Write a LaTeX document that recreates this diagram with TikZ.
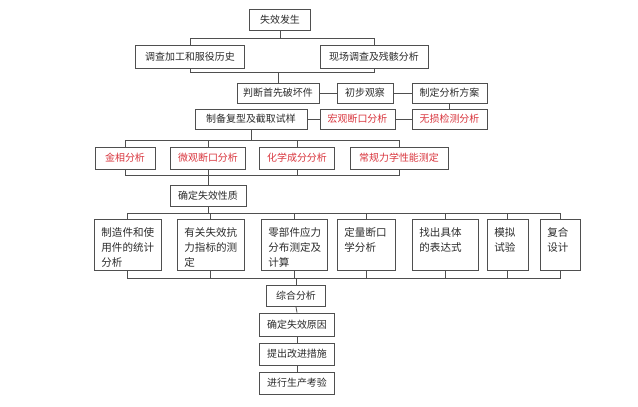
\documentclass[tikz,border=0pt]{standalone}
\usepackage{fontspec}
\setmainfont{Noto Sans CJK SC}
\usepackage{xcolor}
\usepackage{tikz}
\usetikzlibrary{positioning,calc}
\definecolor{cInk}{HTML}{2B2B2B}
\definecolor{cRed}{HTML}{D9363E}
\definecolor{cLine}{HTML}{4F4F4F}
\tikzset{
  flowbox/.style={draw=cLine,fill=white,line width=0.7pt,text=#1,font=\fontsize{8.5}{10}\selectfont,inner sep=0pt,minimum height=0.63cm},
  flowbox/.default=cInk,
  % multibox: fixed text height+depth so the lines start at the top
  multibox/.style={draw=cLine,fill=white,line width=0.7pt,text=cInk,font=\fontsize{9}{12.8}\selectfont,anchor=north west,
    align=left,inner xsep=6pt,inner ysep=0pt,text width=#1,text height=0.51cm,text depth=1.02cm},
  link/.style={draw=cLine,line width=0.7pt},
}

\begin{document}
\begin{tikzpicture}[x=0.03cm,y=-0.03cm]
    \useasboundingbox (0,0) rectangle (638,406);
    \node[flowbox,minimum width=1.83cm] (fail) at (280,20) {失效发生};
    \node[flowbox,minimum width=3.27cm,minimum height=0.69cm] (hist)  at (190,56.5) {调查加工和服役历史};
    \node[flowbox,minimum width=3.24cm,minimum height=0.69cm] (scene) at (374,56.5) {现场调查及残骸分析};
    \node[flowbox,minimum width=2.46cm,minimum height=0.6cm] (judge)   at (278,93)   {判断首先破坏件};
    \node[flowbox,minimum width=1.68cm,minimum height=0.6cm] (observe) at (365,93)   {初步观察};
    \node[flowbox,minimum width=2.25cm,minimum height=0.6cm] (scheme)  at (449.5,93) {制定分析方案};
    \node[flowbox,minimum width=3.36cm,minimum height=0.6cm]      (replica) at (251,119)   {制备复型及截取试样};
    \node[flowbox=cRed,minimum width=2.25cm,minimum height=0.6cm] (macro)   at (357.5,119) {宏观断口分析};
    \node[flowbox=cRed,minimum width=2.25cm,minimum height=0.6cm] (ndt)     at (449.5,119) {无损检测分析};
    \node[flowbox=cRed,minimum width=1.8cm,minimum height=0.66cm]  (metal) at (125,158) {金相分析};
    \node[flowbox=cRed,minimum width=2.25cm,minimum height=0.66cm] (micro) at (208,158) {微观断口分析};
    \node[flowbox=cRed,minimum width=2.25cm,minimum height=0.66cm] (chem)  at (297,158) {化学成分分析};
    \node[flowbox=cRed,minimum width=2.94cm,minimum height=0.66cm] (mech)  at (399,158) {常规力学性能测定};
    \node[flowbox,minimum width=2.28cm] (nature) at (208,195.5) {确定失效性质};
    \node[multibox=1.587cm] (stat)     at (94,219)  {制造件和使\\用件的统计\\分析};
    \node[multibox=1.587cm] (resist)   at (177,219) {有关失效抗\\力指标的测\\定};
    \node[multibox=1.557cm] (stress)   at (261,219) {零部件应力\\分布测定及\\计算};
    \node[multibox=1.317cm] (fracto)   at (337,219) {定量断口\\学分析};
    \node[multibox=1.557cm] (express)  at (412,219) {找出具体\\的表达式};
    \node[multibox=0.807cm] (simul)    at (487,219) {模拟\\试验};
    \node[multibox=0.777cm] (compound) at (540,219) {复合\\设计};
    \node[flowbox,minimum width=1.77cm] (synth)   at (296,296)   {综合分析};
    \node[flowbox,minimum width=2.25cm,minimum height=0.69cm] (cause) at (297,324.5) {确定失效原因};
    \node[flowbox,minimum width=2.25cm,minimum height=0.66cm] (improve) at (297,354) {提出改进措施};
    \node[flowbox,minimum width=2.25cm,minimum height=0.66cm] (trial)   at (297,383) {进行生产考验};
    % junctions of the bus lines
    \path (fail.south) ++(0,7) coordinate (j1);
    \path (judge.north) ++(0,-10) coordinate (j2);
    \path (replica.south) ++(0,11) coordinate (j3);
    \path (nature.north) ++(0,-9) coordinate (j4);
    \path (nature.south) ++(0,7) coordinate (j5);
    \path (synth.north) ++(0,-7) coordinate (j6);
    \draw[link] (fail.south) -- (j1);
    \draw[link] (hist.north) |- (j1) -| (scene.north);
    \draw[link] (hist.south) |- (j2) -| (scene.south);
    \draw[link] (j2) -- (judge.north);
    \draw[link] (judge.east) -- (observe.west);
    \draw[link] (observe.east) -- (scheme.west);
    \draw[link] (scheme.south) -- (ndt.north);
    \draw[link] (ndt.west) -- (macro.east);
    \draw[link] (macro.west) -- (replica.east);
    \draw[link] (replica.south) -- (j3);
    \draw[link] (metal.north) |- (j3) -| (mech.north);
    \draw[link] (micro.north) |- (j3);
    \draw[link] (chem.north) |- (j3);
    \draw[link] (metal.south) |- (j4) -| (mech.south);
    \draw[link] (micro.south) |- (j4);
    \draw[link] (chem.south) |- (j4);
    \draw[link] (j4) -- (nature.north);
    \draw[link] (nature.south) -- (j5);
    \draw[link] (stat.north) |- (j5) -| (compound.north);
    \draw[link] (resist.north) |- (j5);
    \draw[link] (stress.north) |- (j5);
    \draw[link] (fracto.north) |- (j5);
    \draw[link] (express.north) |- (j5);
    \draw[link] (simul.north) |- (j5);
    \draw[link] (stat.south) |- (j6) -| (compound.south);
    \draw[link] (resist.south) |- (j6);
    \draw[link] (stress.south) |- (j6);
    \draw[link] (fracto.south) |- (j6);
    \draw[link] (express.south) |- (j6);
    \draw[link] (simul.south) |- (j6);
    \draw[link] (j6) -- (synth.north);
    \draw[link] (synth.south) -- (cause.north);
    \draw[link] (cause.south) -- (improve.north);
    \draw[link] (improve.south) -- (trial.north);
  \end{tikzpicture}
\end{document}
